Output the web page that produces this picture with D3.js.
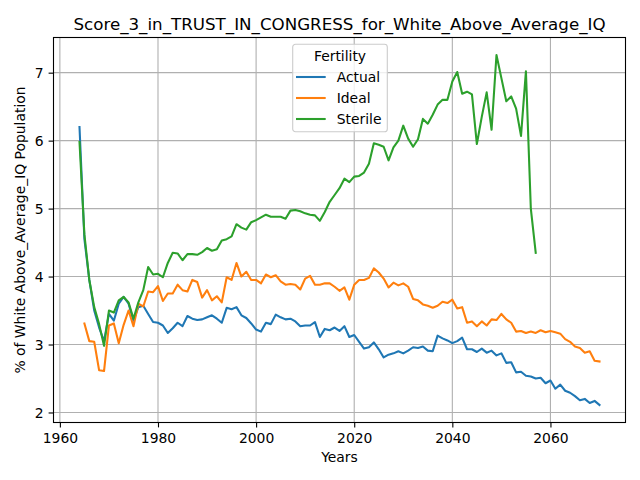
<!DOCTYPE html>
<html>
<head>
<meta charset="utf-8">
<script src="https://cdn.jsdelivr.net/npm/d3@7"></script>
<style>
  body { margin: 0; background: #fff; }
  svg { font-family: "DejaVu Sans", sans-serif; }
  .tick text { font-size: 13.9px; fill: #000; }
</style>
</head>
<body>
<svg id="chart" width="640" height="480"></svg>
<script>
// series values, one per year
var actualYears = d3.range(1964, 2071);
var actual = [
  6.2, 4.55, 3.95, 3.5, 3.25, 3.05, 3.45, 3.35, 3.6, 3.7,
  3.6, 3.35, 3.55, 3.57, 3.45, 3.33, 3.32, 3.28, 3.17, 3.24,
  3.32, 3.27, 3.42, 3.38, 3.36, 3.37, 3.40, 3.43, 3.38, 3.32,
  3.54, 3.52, 3.55, 3.43, 3.39, 3.31, 3.22, 3.19, 3.32, 3.30,
  3.44, 3.40, 3.37, 3.38, 3.34, 3.27, 3.28, 3.28, 3.33, 3.11,
  3.23, 3.21, 3.25, 3.20, 3.27, 3.11, 3.14, 3.04, 2.94, 2.96,
  3.03, 2.93, 2.81, 2.85, 2.87, 2.90, 2.87, 2.91, 2.96, 2.95,
  2.97, 2.91, 2.90, 3.13, 3.09, 3.06, 3.02, 3.05, 3.10, 2.93,
  2.93, 2.89, 2.94, 2.88, 2.91, 2.84, 2.87, 2.73, 2.74, 2.59,
  2.60, 2.54, 2.53, 2.50, 2.51, 2.43, 2.47, 2.35, 2.41, 2.32,
  2.29, 2.24, 2.18, 2.20, 2.14, 2.17, 2.11
];

var idealYears = d3.range(1965, 2071);
var ideal = [
  3.31, 3.05, 3.04, 2.62, 2.61, 3.28, 3.31, 3.02, 3.29, 3.50,
  3.27, 3.60, 3.56, 3.78, 3.77, 3.86, 3.64, 3.75, 3.75, 3.88,
  3.80, 3.78, 3.95, 3.92, 3.69, 3.80, 3.65, 3.71, 3.62, 3.99,
  3.95, 4.20, 4.00, 4.07, 3.95, 3.95, 3.90, 4.03, 3.99, 4.02,
  3.93, 3.88, 3.89, 3.88, 3.81, 3.97, 4.01, 3.88, 3.88, 3.90,
  3.90, 3.85, 3.79, 3.84, 3.66, 3.88, 3.95, 3.95, 3.98, 4.12,
  4.06, 3.97, 3.84, 3.91, 3.87, 3.90, 3.85, 3.67, 3.65, 3.59,
  3.57, 3.54, 3.57, 3.63, 3.61, 3.66, 3.53, 3.55, 3.32, 3.34,
  3.27, 3.34, 3.28, 3.37, 3.36, 3.45, 3.37, 3.32, 3.19, 3.20,
  3.17, 3.19, 3.17, 3.21, 3.18, 3.20, 3.18, 3.16, 3.08, 3.04,
  2.97, 2.95, 2.88, 2.90, 2.76, 2.75
];

var sterileYears = d3.range(1964, 2058);
var sterile = [
  5.98, 4.62, 3.95, 3.55, 3.3, 2.98, 3.50, 3.47, 3.65, 3.70,
  3.62, 3.38, 3.62, 3.80, 4.14, 4.03, 4.04, 3.99, 4.20, 4.35,
  4.34, 4.24, 4.33, 4.33, 4.32, 4.36, 4.42, 4.38, 4.40, 4.53,
  4.55, 4.59, 4.77, 4.72, 4.69, 4.80, 4.83, 4.87, 4.91, 4.88,
  4.88, 4.88, 4.85, 4.97, 4.98, 4.96, 4.93, 4.91, 4.90, 4.82,
  4.95, 5.10, 5.20, 5.30, 5.44, 5.39, 5.47, 5.48, 5.53, 5.66,
  5.96, 5.94, 5.91, 5.71, 5.90, 6.00, 6.22, 6.03, 5.91, 6.02,
  6.32, 6.25, 6.38, 6.53, 6.60, 6.60, 6.87, 7.01, 6.69, 6.72,
  6.68, 5.95, 6.35, 6.71, 6.16, 7.26, 6.92, 6.58, 6.65, 6.47,
  6.07, 7.02, 5.00, 4.35
];

var seriesNames = ["Actual", "Ideal", "Sterile"];
var seriesColors = ["#1f77b4", "#ff7f0e", "#2ca02c"];
var xTicks = [1960, 1980, 2000, 2020, 2040, 2060];
var yTicks = [2, 3, 4, 5, 6, 7];

var series = [
  { name: seriesNames[0], color: seriesColors[0], pts: d3.zip(actualYears, actual) },
  { name: seriesNames[1], color: seriesColors[1], pts: d3.zip(idealYears, ideal) },
  { name: seriesNames[2], color: seriesColors[2], pts: d3.zip(sterileYears, sterile) }
];

var axLeft = 53.5, axRight = 625.5, axTop = 37.5, axBottom = 422.5;
var svg = d3.select("#chart");

// matplotlib style 5% margins
var allPts = d3.merge(series.map(s => s.pts));
var xExt = d3.extent(allPts, d => d[0]), yExt = d3.extent(allPts, d => d[1]);
var xPad = (xExt[1] - xExt[0]) * 0.05, yPad = (yExt[1] - yExt[0]) * 0.05;

var x = d3.scaleLinear().domain([xExt[0] - xPad, xExt[1] + xPad]).range([axLeft, axRight]);
var y = d3.scaleLinear().domain([yExt[0] - yPad, yExt[1] + yPad]).range([axBottom, axTop]);

// grid
var grid = svg.append("g");
grid.selectAll("line.gx").data(xTicks).enter().append("line")
  .attr("x1", d => x(d)).attr("x2", d => x(d))
  .attr("y1", axTop).attr("y2", axBottom)
  .attr("stroke", "#b0b0b0").attr("stroke-width", 1.1);
grid.selectAll("line.gy").data(yTicks).enter().append("line")
  .attr("x1", axLeft).attr("x2", axRight)
  .attr("y1", d => y(d)).attr("y2", d => y(d))
  .attr("stroke", "#b0b0b0").attr("stroke-width", 1.1);

// lines
var line = d3.line().x(d => x(d[0])).y(d => y(d[1]));
svg.append("g").selectAll("path").data(series).enter().append("path")
  .attr("d", d => line(d.pts))
  .attr("fill", "none")
  .attr("stroke", d => d.color)
  .attr("stroke-width", 2.08)
  .attr("stroke-linejoin", "round")
  .attr("stroke-linecap", "square");

// axes
var xAxis = svg.append("g").attr("transform", "translate(0," + axBottom + ")")
  .call(d3.axisBottom(x).tickValues(xTicks).tickFormat(d3.format("d")).tickSizeOuter(0).tickSize(4.9).tickPadding(5));
var yAxis = svg.append("g").attr("transform", "translate(" + axLeft + ",0)")
  .call(d3.axisLeft(y).tickValues(yTicks).tickFormat(d3.format("d")).tickSizeOuter(0).tickSize(4.9).tickPadding(5));
[xAxis, yAxis].forEach(a => {
  a.select(".domain").remove();
  a.selectAll(".tick line").attr("stroke", "#000").attr("stroke-width", 1.1);
  a.attr("font-family", "DejaVu Sans").attr("font-size", 13.9);
});
xAxis.selectAll(".tick text").attr("dy", null).attr("y", 20);
yAxis.selectAll(".tick text").attr("dy", "0.36em");

// frame
svg.append("rect")
  .attr("x", axLeft).attr("y", axTop)
  .attr("width", axRight - axLeft).attr("height", axBottom - axTop)
  .attr("fill", "none").attr("stroke", "#000").attr("stroke-width", 1.1);

// titles
svg.append("text")
  .attr("x", (axLeft + axRight) / 2).attr("y", 29.5)
  .attr("text-anchor", "middle").attr("font-size", 16.7)
  .text("Score_3_in_TRUST_IN_CONGRESS_for_White_Above_Average_IQ");
svg.append("text")
  .attr("x", (axLeft + axRight) / 2).attr("y", 462)
  .attr("text-anchor", "middle").attr("font-size", 13.9)
  .text("Years");
svg.append("text")
  .attr("transform", "translate(25," + ((axTop + axBottom) / 2) + ") rotate(-90)")
  .attr("text-anchor", "middle").attr("font-size", 13.9)
  .text("% of White Above_Average_IQ Population");

// legend
var lg = svg.append("g").attr("transform", "translate(292.7,44.3)");
lg.append("rect")
  .attr("width", 94.6).attr("height", 87.4).attr("rx", 2.8)
  .attr("fill", "#fff").attr("fill-opacity", 0.8)
  .attr("stroke", "#cccccc").attr("stroke-width", 1.1);
lg.append("text")
  .attr("x", 47.3).attr("y", 16.7)
  .attr("text-anchor", "middle").attr("font-size", 13.9)
  .text("Fertility");
var items = lg.selectAll("g.item").data(series).enter().append("g")
  .attr("transform", (d, i) => "translate(0," + (32.7 + i * 21) + ")");
items.append("line")
  .attr("x1", 3.3).attr("x2", 33)
  .attr("stroke", d => d.color).attr("stroke-width", 2.08);
items.append("text")
  .attr("x", 44).attr("y", 5)
  .attr("font-size", 13.9)
  .text(d => d.name);
</script>
</body>
</html>
